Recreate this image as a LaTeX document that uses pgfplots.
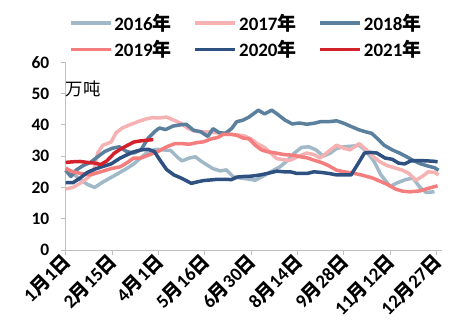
\documentclass[border=0pt]{standalone}
\usepackage{pgfplots}
\pgfplotsset{compat=1.18}
\usepackage{fontspec}
\setmainfont{Carlito}
\newfontfamily\cjk{Noto Sans CJK SC}
\newcommand\Yr{{\cjk 年}}
\newcommand\Mo{{\cjk 月}}
\newcommand\Dy{{\cjk 日}}
\definecolor{c16}{HTML}{A0B8C8}
\definecolor{c17}{HTML}{F6B2B2}
\definecolor{c18}{HTML}{5A809E}
\definecolor{c19}{HTML}{F47E7E}
\definecolor{c20}{HTML}{2F5181}
\definecolor{c21}{HTML}{D3222C}
\definecolor{axgray}{HTML}{BFBFBF}
\begin{document}
\begin{tikzpicture}
\useasboundingbox (-65.7bp,-85bp) rectangle (408.3bp,250bp);
\begin{axis}[
  scale only axis,
  width=376bp, height=187.7bp,
  xmin=0, xmax=365, ymin=0, ymax=60,
  axis x line=bottom, axis y line=left,
  axis line style={-, axgray, line width=0.8bp},
  tick style={axgray, line width=0.8bp},
  major tick length=5bp,
  tick align=outside,
  xtick={0,45,90,135,180,225,270,315,360},
  xticklabels={1\Mo1\Dy,2\Mo15\Dy,4\Mo1\Dy,5\Mo16\Dy,6\Mo30\Dy,8\Mo14\Dy,9\Mo28\Dy,11\Mo12\Dy,12\Mo27\Dy},
  ytick={0,10,20,30,40,50,60},
  /pgf/number format/assume math mode=true,
  x tick label style={rotate=45, anchor=east, font=\fontsize{19}{19}\selectfont\bfseries, inner sep=1bp, yshift=-3bp},
  y tick label style={font=\fontsize{17.5}{17.5}\selectfont\bfseries, xshift=-8bp},
  legend columns=3,
  legend style={draw=none, fill=none, at={(0.0,1.28)}, anchor=north west,
    font=\fontsize{19}{19}\selectfont\bfseries,
    /tikz/every even column/.append style={column sep=20bp},
    row sep=5bp},
  legend cell align=left,
  legend image code/.code={\draw[#1] (0bp,0bp) -- (40bp,0bp);},
  every axis plot/.append style={line width=3.5bp, line join=round},
  clip=false,
]
\addplot[c16] coordinates {(0,26.3)(7,24.5)(14,22.5)(21,21)(28,20)(35,21.5)(43,23)(51,24.5)(59,26)(66,27.5)(73,29.5)(80,31.4)(88,32.2)(95,32)(102,31.8)(109,29.5)(113,28.5)(120,29.4)(126,29.8)(131,28.5)(138,27)(143,26)(150,25.3)(156,25.6)(163,23.3)(170,23)(177,22.7)(184,22.3)(191,23.5)(198,24.8)(208,26.6)(215,28.5)(222,31)(229,32.8)(236,33)(243,32)(250,30)(257,31)(263,32.5)(270,33)(278,33.2)(285,33.5)(292,31.5)(299,28.5)(306,24)(315,20.3)(322,21.5)(330,22.5)(337,23)(344,20)(350,18.4)(358,18.6)};
\addplot[c17] coordinates {(0,19.5)(7,20)(14,21.3)(21,23)(27,25)(31,31)(36,33.5)(44,34.5)(49,37.5)(55,39)(62,40)(70,41)(77,41.8)(84,42.3)(91,42.2)(98,42.5)(105,41.5)(112,40.5)(118,39)(125,38)(131,37.8)(138,37.8)(145,37.5)(152,37.3)(159,37)(166,36.8)(173,36.5)(180,35.5)(186,34)(193,32.8)(199,31)(205,29.2)(212,28.8)(218,28.7)(225,29.8)(234,31)(241,30.5)(247,29.4)(255,31.5)(263,33.5)(270,32.5)(276,32)(285,34)(292,32)(298,30)(305,28.2)(312,27)(319,26.3)(327,25.5)(333,24.5)(340,22.3)(346,23.5)(352,25)(358,24.8)(362,24)};
\addplot[c18] coordinates {(0,25.5)(5,23.5)(10,25.5)(17,27)(24,28)(31,29.8)(38,31.5)(45,32.5)(52,33)(59,31.5)(66,31)(73,32)(80,35.7)(87,38)(91,39)(97,38.5)(104,39.6)(111,40)(117,40.2)(124,38.3)(131,37.8)(138,36.3)(143,38.8)(149,37.5)(155,37.3)(161,38.8)(166,41)(172,41.5)(178,42.5)(187,44.7)(193,43.5)(200,44.7)(206,43.3)(213,41.5)(220,40.3)(227,40.6)(234,40.2)(241,40.5)(247,41)(255,41)(263,41.3)(270,40.5)(277,39.5)(284,38.5)(291,37.8)(297,37.3)(303,35.5)(309,33.5)(317,32)(324,31)(331,29.8)(338,28.5)(345,27.5)(352,26.8)(358,26.3)(362,25.5)};
\addplot[c19] coordinates {(0,26)(7,25)(14,24.5)(24,24)(34,25)(44,26)(53,26.6)(60,28)(66,29.4)(73,29.4)(80,30.3)(89,31.4)(98,33)(106,34)(113,34)(120,33.8)(127,34.3)(134,34.6)(141,35.5)(148,36)(153,37)(160,37)(166,36.7)(172,35.8)(178,35.5)(184,33.5)(190,32)(196,31.4)(204,31)(212,30.5)(221,30.3)(228,29.8)(235,29.4)(241,28.7)(248,28)(255,27)(263,25.5)(270,25)(277,24.7)(287,24)(298,23)(305,22)(312,21)(320,19.5)(327,18.8)(334,18.6)(344,18.9)(353,19.8)(361,20.5)};
\addplot[c20] coordinates {(0,21.5)(7,21.5)(14,23)(21,24.8)(28,25.8)(35,26.6)(44,27.5)(53,29.4)(60,30.5)(66,31.4)(73,32)(80,32.2)(86,31.5)(92,28.5)(98,25.7)(105,24)(112,23)(118,22)(122,21.3)(128,21.8)(134,22.2)(141,22.4)(147,22.6)(155,22.6)(161,22.5)(166,23.3)(173,23.5)(180,23.6)(189,24)(196,24.5)(205,25.2)(212,25)(218,25)(224,24.5)(229,24.5)(235,24.5)(241,25)(248,24.8)(255,24.5)(263,24)(270,24)(277,24)(284,27.7)(290,31)(296,31.2)(302,31)(310,29.4)(317,29)(323,27.8)(329,27.5)(335,28.5)(342,28.6)(350,28.5)(356,28.4)(361,28.2)};
\addplot[c21] coordinates {(0,28)(7,28.2)(14,28.3)(21,28)(28,27.8)(34,27.3)(40,28.5)(47,30.9)(53,32.2)(59,33.3)(66,34.5)(73,34.9)(79,35.1)(85,35.3)};
\legend{2016\Yr,2017\Yr,2018\Yr,2019\Yr,2020\Yr,2021\Yr}
\node[anchor=west, inner sep=0pt, font=\fontsize{17.5}{17.5}\selectfont\cjk] at (axis cs:0,51.4) {万吨};
\end{axis}
\end{tikzpicture}
\end{document}
